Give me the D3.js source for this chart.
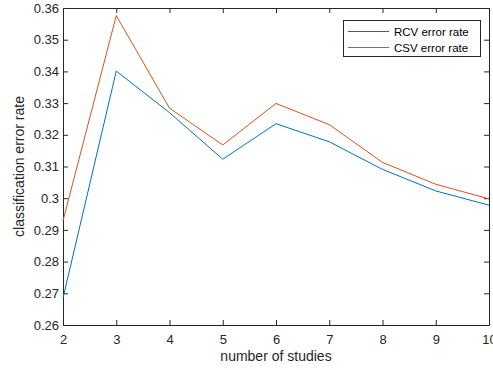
<!DOCTYPE html>
<html>
<head>
<meta charset="utf-8">
<script src="https://cdn.jsdelivr.net/npm/d3@7"></script>
<style>
  body { margin: 0; background: #fff; }
  svg { font-family: "Liberation Sans", Arial, Helvetica, sans-serif; }
</style>
</head>
<body>
<div id="chart"></div>
<script>
// data
var studies = [2, 3, 4, 5, 6, 7, 8, 9, 10];
var rcvError = [0.2685, 0.3401, 0.3270, 0.3123, 0.3235, 0.3178, 0.3091, 0.3023, 0.2978];
var csvError = [0.2929, 0.3576, 0.3284, 0.3168, 0.3299, 0.3232, 0.3113, 0.3044, 0.2998];
var yTicks = [0.26, 0.27, 0.28, 0.29, 0.3, 0.31, 0.32, 0.33, 0.34, 0.35, 0.36];
var seriesNames = ["RCV error rate", "CSV error rate"];
var seriesColors = ["#0072BD", "#D95319"];

var W = 493, H = 370;
var margin = {left: 63, right: 4, top: 8, bottom: 45};
var ink = "#262626";

var svg = d3.select("#chart").append("svg")
    .attr("width", W)
    .attr("height", H);

var x = d3.scaleLinear().domain([2, 10]).range([margin.left, W - margin.right]);
var y = d3.scaleLinear().domain([0.26, 0.36]).range([H - margin.bottom, margin.top]);

var tickLen = 5;

// bottom axis
var xAxis = svg.append("g")
    .attr("transform", "translate(0," + y(0.26) + ")")
    .call(d3.axisBottom(x).tickValues(studies).tickSizeInner(-tickLen).tickSizeOuter(0).tickPadding(10));
// left axis
var yAxis = svg.append("g")
    .attr("transform", "translate(" + x(2) + ",0)")
    .call(d3.axisLeft(y).tickValues(yTicks).tickSizeInner(-tickLen).tickSizeOuter(0).tickPadding(4)
        .tickFormat(function(d){ return d3.format(".2f")(d).replace(/0$/, ""); }));
// top + right (box)
var xTop = svg.append("g")
    .attr("transform", "translate(0," + y(0.36) + ")")
    .call(d3.axisTop(x).tickValues(studies).tickSizeInner(-tickLen).tickSizeOuter(0).tickFormat(""));
var yRight = svg.append("g")
    .attr("transform", "translate(" + x(10) + ",0)")
    .call(d3.axisRight(y).tickValues(yTicks).tickSizeInner(-tickLen).tickSizeOuter(0).tickFormat(""));

[xAxis, yAxis, xTop, yRight].forEach(function(g){
    g.selectAll("path, line").attr("stroke", ink).attr("stroke-width", 1);
    g.selectAll("text").attr("fill", ink).attr("font-size", 13).attr("font-family", null);
});

// lines
var line = d3.line()
    .x(function(d, i){ return x(studies[i]); })
    .y(function(d){ return y(d); });

[rcvError, csvError].forEach(function(vals, k){
    svg.append("path")
        .datum(vals)
        .attr("fill", "none")
        .attr("stroke", seriesColors[k])
        .attr("stroke-width", 1)
        .attr("d", line);
});

// labels
svg.append("text")
    .attr("x", (x(2) + x(10)) / 2)
    .attr("y", 361)
    .attr("text-anchor", "middle")
    .attr("font-size", 14)
    .attr("fill", ink)
    .text("number of studies");

svg.append("text")
    .attr("transform", "translate(24," + (y(0.31)) + ") rotate(-90)")
    .attr("text-anchor", "middle")
    .attr("font-size", 14)
    .attr("fill", ink)
    .text("classification error rate");

// legend
var legend = svg.append("g");
legend.append("rect")
    .attr("x", 343.5).attr("y", 20.5)
    .attr("width", 137).attr("height", 36)
    .attr("fill", "#fff")
    .attr("stroke", ink)
    .attr("stroke-width", 1);

seriesNames.forEach(function(name, k){
    var ly = 31.5 + k * 16;
    legend.append("line")
        .attr("x1", 348).attr("x2", 389)
        .attr("y1", ly).attr("y2", ly)
        .attr("stroke", seriesColors[k])
        .attr("stroke-width", 1);
    legend.append("text")
        .attr("x", 394)
        .attr("y", ly + 4)
        .attr("font-size", 11.5)
        .attr("fill", "#000")
        .text(name);
});
</script>
</body>
</html>
